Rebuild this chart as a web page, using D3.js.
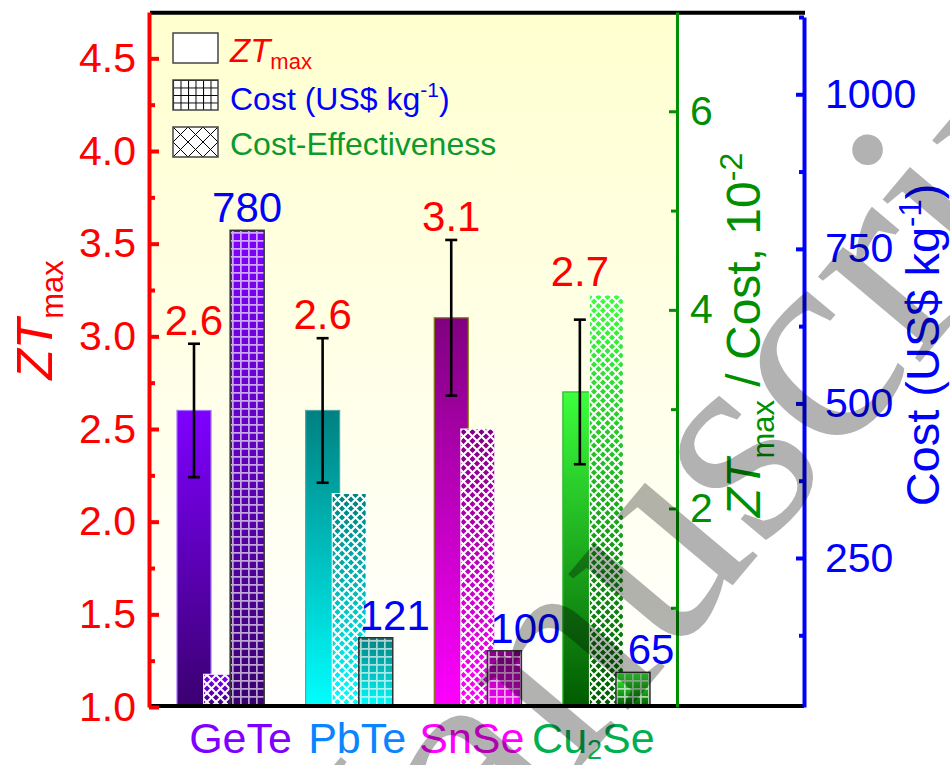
<!DOCTYPE html>
<html><head><meta charset="utf-8">
<script src="https://cdn.jsdelivr.net/npm/d3@7/dist/d3.min.js"></script>
<style>
html,body{margin:0;padding:0;background:#fff;}
svg{display:block;font-family:"Liberation Sans",Arial,sans-serif;}
</style></head>
<body>
<svg id="chart" width="950" height="765"></svg>
<script>
// ---------------- data ----------------
const categories = ["GeTe", "PbTe", "SnSe", "Cu2Se"];
const ztMax      = [2.6, 2.6, 3.1, 2.7];
const ztErr      = [0.36, 0.39, 0.42, 0.39];
const costUSD    = [780, 121, 100, 65];
const costEff    = [0.33, 2.15, 2.8, 4.15];   // ZTmax / Cost, 10^-2
const ztLabels   = ["2.6", "2.6", "3.1", "2.7"];
const costLabels = ["780", "121", "100", "65"];
const ztTicks    = [1.0, 1.5, 2.0, 2.5, 3.0, 3.5, 4.0, 4.5];
const ztMinor    = [1.25, 1.75, 2.25, 2.75, 3.25, 3.75, 4.25];
const ceTicks    = [2, 4, 6];
const ceMinor    = [1, 3, 5];
const costTicks  = [250, 500, 750, 1000];
const costMinor  = [125, 375, 625, 875, 1125];

// ---------------- styles ----------------
const catColor  = ["#8000ff", "#0a84ff", "#ff00ff", "#00b050"];
const gradTop   = ["#7f00ff", "#008080", "#800080", "#3cff3c"];
const gradBot   = ["#3a0070", "#00ffff", "#ff00ff", "#005a00"];
const barStroke = ["#a070ff", "#4aa8a8", "#808000", "#2eb82e"];
const catDx     = [20, 8, -6, -13];
const costLblDx = [0, 19, 21, 18];
const RED = "#ff0000", BLUE = "#0000ff", GREEN = "#008f00", LGREEN = "#0a9a2e";

const svg = d3.select("#chart");
const defs = svg.append("defs");

// plot geometry
const L = 150, R = 677, RB = 804, T = 12, B = 707;

const x = d3.scaleBand().domain(categories).range([L, R]).paddingInner(0.3225).paddingOuter(0.21);
const yZT = d3.scaleLinear().domain([1, 4.75]).range([B, T]);
const yCE = d3.scaleLinear().domain([0, 7]).range([B, T]);
const yCost = d3.scaleLinear().domain([9, 1125]).range([B, 17]);

const bw = x.bandwidth();
const barW = bw * 0.39, off = bw * 0.305;

// background gradient
const bg = defs.append("linearGradient").attr("id", "bgGrad").attr("x1", 0).attr("y1", 0).attr("x2", 0).attr("y2", 1);
bg.append("stop").attr("offset", "0%").attr("stop-color", "#ffffd0");
bg.append("stop").attr("offset", "100%").attr("stop-color", "#ffffff");
svg.append("rect").attr("x", L).attr("y", T).attr("width", R - L).attr("height", B - T).attr("fill", "url(#bgGrad)");

// bar gradients
categories.forEach((c, i) => {
  const g = defs.append("linearGradient").attr("id", "g" + i).attr("x1", 0).attr("y1", 0).attr("x2", 0).attr("y2", 1);
  g.append("stop").attr("offset", "0%").attr("stop-color", gradTop[i]);
  g.append("stop").attr("offset", "100%").attr("stop-color", gradBot[i]);
});

// patterns
const pg = defs.append("pattern").attr("id", "gridP").attr("patternUnits", "userSpaceOnUse").attr("width", 8).attr("height", 8);
pg.append("path").attr("d", "M0,0H8M0,0V8").attr("stroke", "#fff").attr("stroke-opacity", 0.65).attr("stroke-width", 3.4).attr("fill", "none");
const px = defs.append("pattern").attr("id", "xP").attr("patternUnits", "userSpaceOnUse").attr("width", 9).attr("height", 9);
px.append("path").attr("d", "M-2,-2L11,11M11,-2L-2,11").attr("stroke", "#fff").attr("stroke-width", 2).attr("fill", "none");
const lg = defs.append("pattern").attr("id", "gridL").attr("patternUnits", "userSpaceOnUse").attr("width", 7.5).attr("height", 7.5).attr("x", 173).attr("y", 80);
lg.append("path").attr("d", "M0,0.5H7.5M0.5,0V7.5").attr("stroke", "#000").attr("stroke-width", 1).attr("fill", "none");
const lx = defs.append("pattern").attr("id", "xL").attr("patternUnits", "userSpaceOnUse").attr("width", 15).attr("height", 15).attr("x", 173).attr("y", 127);
lx.append("path").attr("d", "M-2,-2L17,17M17,-2L-2,17").attr("stroke", "#000").attr("stroke-width", 1).attr("fill", "none");

// ---------------- bars ----------------
const bars = svg.append("g");
categories.forEach((c, i) => {
  const x0 = x(c);
  // ZT bar
  bars.append("rect").attr("x", x0).attr("y", yZT(ztMax[i])).attr("width", barW).attr("height", yZT(1) - yZT(ztMax[i]))
    .attr("fill", `url(#g${i})`).attr("stroke", barStroke[i]).attr("stroke-width", 1.2);
  // error bar
  const cx = x0 + barW / 2;
  const e = bars.append("g").attr("stroke", "#000").attr("stroke-width", 2.6);
  e.append("line").attr("x1", cx).attr("x2", cx).attr("y1", yZT(ztMax[i] + ztErr[i])).attr("y2", yZT(ztMax[i] - ztErr[i]));
  e.append("line").attr("x1", cx - 6).attr("x2", cx + 6).attr("y1", yZT(ztMax[i] + ztErr[i])).attr("y2", yZT(ztMax[i] + ztErr[i]));
  e.append("line").attr("x1", cx - 6).attr("x2", cx + 6).attr("y1", yZT(ztMax[i] - ztErr[i])).attr("y2", yZT(ztMax[i] - ztErr[i]));
  // cost-effectiveness bar
  const xc = x0 + off;
  bars.append("rect").attr("x", xc).attr("y", yCE(costEff[i])).attr("width", barW).attr("height", yCE(0) - yCE(costEff[i]))
    .attr("fill", `url(#g${i})`).attr("stroke", "#fff").attr("stroke-width", 1);
  bars.append("rect").attr("x", xc).attr("y", yCE(costEff[i])).attr("width", barW).attr("height", yCE(0) - yCE(costEff[i]))
    .attr("fill", "url(#xP)");
  // cost bar
  const xk = x0 + 2 * off;
  bars.append("rect").attr("x", xk).attr("y", yCost(costUSD[i])).attr("width", barW).attr("height", yCost(9) - yCost(costUSD[i]))
    .attr("fill", `url(#g${i})`);
  bars.append("rect").attr("x", xk).attr("y", yCost(costUSD[i])).attr("width", barW).attr("height", yCost(9) - yCost(costUSD[i]))
    .attr("fill", "url(#gridP)").attr("stroke", "#333").attr("stroke-width", 1.5);
  // labels
  const ly = Math.min(yZT(ztMax[i] + ztErr[i]), yCE(costEff[i])) - 9;
  svg.append("text").attr("x", cx).attr("y", ly).attr("text-anchor", "middle").attr("font-size", 42).attr("fill", RED).text(ztLabels[i]);
  svg.append("text").attr("x", xk + barW / 2 + costLblDx[i]).attr("y", yCost(costUSD[i]) - 8).attr("text-anchor", "middle")
    .attr("font-size", 42).attr("fill", BLUE).text(costLabels[i]);
});

// ---------------- frame lines ----------------
svg.append("line").attr("x1", L).attr("x2", RB + 1).attr("y1", T + 0.8).attr("y2", T + 0.8).attr("stroke", "#000").attr("stroke-width", 4);
svg.append("line").attr("x1", L).attr("x2", RB).attr("y1", 706).attr("y2", 706).attr("stroke", "#000").attr("stroke-width", 4);

// ---------------- axes ----------------
function styleAxis(g, color, width) {
  g.select(".domain").attr("stroke", color).attr("stroke-width", width);
  g.selectAll(".tick line").attr("stroke", color).attr("stroke-width", width);
  g.selectAll(".tick text").attr("fill", color).attr("font-size", 41).attr("font-family", "Liberation Sans, Arial, sans-serif");
}
// left ZT axis
const gL = svg.append("g").attr("transform", `translate(${L - 1},0)`)
  .call(d3.axisLeft(yZT).tickValues(ztTicks).tickFormat(d3.format(".1f")).tickSize(-10).tickSizeOuter(0).tickPadding(13));
styleAxis(gL, RED, 4);
const gLm = svg.append("g").attr("transform", `translate(${L - 1},0)`)
  .call(d3.axisLeft(yZT).tickValues(ztMinor).tickFormat("").tickSize(-6).tickSizeOuter(0));
styleAxis(gLm, RED, 4);
gLm.select(".domain").remove();

// green CE axis
const gG = svg.append("g").attr("transform", `translate(${R},0)`)
  .call(d3.axisRight(yCE).tickValues(ceTicks).tickFormat(d3.format("d")).tickSize(-8).tickSizeOuter(0).tickPadding(13));
styleAxis(gG, GREEN, 3);
const gGm = svg.append("g").attr("transform", `translate(${R},0)`)
  .call(d3.axisRight(yCE).tickValues(ceMinor).tickFormat("").tickSize(-6).tickSizeOuter(0));
styleAxis(gGm, GREEN, 3);
gGm.select(".domain").remove();

// blue cost axis
const gB = svg.append("g").attr("transform", `translate(${RB},0)`)
  .call(d3.axisRight(yCost).tickValues(costTicks).tickFormat(d3.format("d")).tickSize(-8).tickSizeOuter(0).tickPadding(21));
styleAxis(gB, BLUE, 4);
const gBm = svg.append("g").attr("transform", `translate(${RB},0)`)
  .call(d3.axisRight(yCost).tickValues(costMinor).tickFormat("").tickSize(-5).tickSizeOuter(0));
styleAxis(gBm, BLUE, 4);
gBm.select(".domain").remove();

// ---------------- category labels ----------------
categories.forEach((c, i) => {
  const t = svg.append("text").attr("x", x(c) + bw / 2 + catDx[i]).attr("y", 753).attr("text-anchor", "middle")
    .attr("font-size", 43).attr("fill", catColor[i]);
  const m = c.match(/^([A-Za-z]+)(\d)([A-Za-z]+)$/);
  if (m) {
    t.append("tspan").text(m[1]);
    t.append("tspan").attr("font-size", 27).attr("dy", 6).text(m[2]);
    t.append("tspan").attr("dy", -6).text(m[3]);
  } else t.text(c);
});

// ---------------- axis titles ----------------
const tL = svg.append("text").attr("transform", "translate(52,320) rotate(-90)").attr("text-anchor", "middle").attr("fill", RED).attr("font-size", 50);
tL.append("tspan").attr("font-style", "italic").text("ZT");
tL.append("tspan").attr("font-size", 31).attr("dy", 11).text("max");

const tG = svg.append("text").attr("transform", "translate(760,335) rotate(-90)").attr("text-anchor", "middle").attr("fill", GREEN).attr("font-size", 48);
tG.append("tspan").attr("font-style", "italic").text("ZT");
tG.append("tspan").attr("font-size", 31).attr("dy", 14).text("max");
tG.append("tspan").attr("dy", -14).text(" / Cost, 10");
tG.append("tspan").attr("font-size", 32).attr("dy", -18).text("-2");

const tB = svg.append("text").attr("transform", "translate(939,345) rotate(-90)").attr("text-anchor", "middle").attr("fill", BLUE).attr("font-size", 47);
tB.append("tspan").text("Cost (US$ kg");
tB.append("tspan").attr("font-size", 31).attr("dy", -18).text("-1");
tB.append("tspan").attr("dy", 18).text(")");

// ---------------- legend ----------------
const leg = svg.append("g");
const legY = [33, 80, 127];
const legFill = ["#fff", "url(#gridL)", "url(#xL)"];
legY.forEach((yy, i) => {
  leg.append("rect").attr("x", 173).attr("y", yy).attr("width", 45).attr("height", 30).attr("fill", "#fff");
  leg.append("rect").attr("x", 173).attr("y", yy).attr("width", 45).attr("height", 30).attr("fill", legFill[i]).attr("stroke", "#444").attr("stroke-width", 1.5);
});
const l1 = leg.append("text").attr("x", 230).attr("y", 62).attr("fill", RED).attr("font-size", 33);
l1.append("tspan").attr("font-style", "italic").text("ZT");
l1.append("tspan").attr("font-size", 22).attr("dy", 7).text("max");
const l2 = leg.append("text").attr("x", 230).attr("y", 110).attr("fill", BLUE).attr("font-size", 32);
l2.append("tspan").text("Cost (US$ kg");
l2.append("tspan").attr("font-size", 21).attr("dy", -13).text("-1");
l2.append("tspan").attr("dy", 13).text(")");
leg.append("text").attr("x", 230).attr("y", 155).attr("fill", LGREEN).attr("font-size", 32).text("Cost-Effectiveness");

// ---------------- watermark ----------------
svg.append("text").attr("transform", "translate(326,1070) rotate(-50)").attr("font-family", "Liberation Serif, Times New Roman, serif")
  .attr("font-size", 290).attr("fill", "#000").attr("fill-opacity", 0.3).attr("pointer-events", "none").text("Manuscript");
</script>
</body></html>
